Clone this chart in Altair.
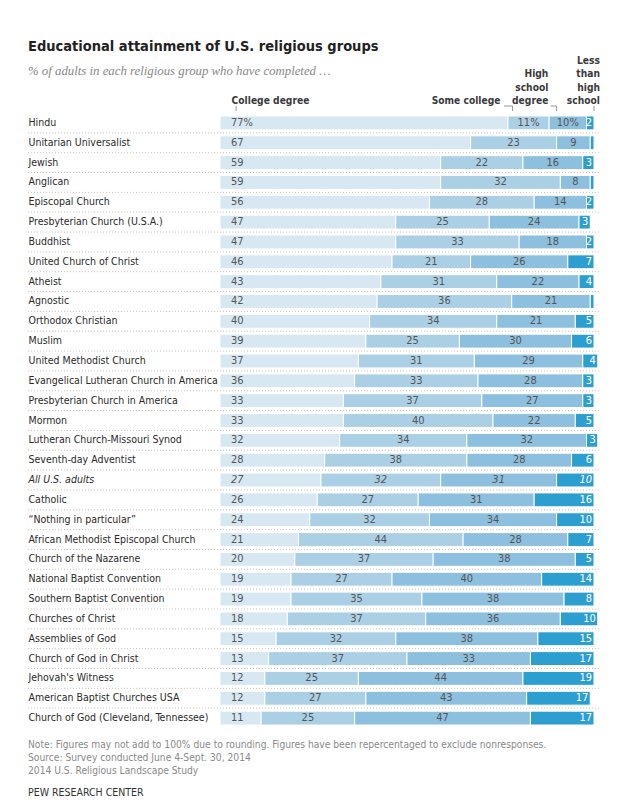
import altair as alt
import pandas as pd

groups = [
    "Hindu", "Unitarian Universalist", "Jewish", "Anglican", "Episcopal Church",
    "Presbyterian Church (U.S.A.)", "Buddhist", "United Church of Christ", "Atheist",
    "Agnostic", "Orthodox Christian", "Muslim", "United Methodist Church",
    "Evangelical Lutheran Church in America", "Presbyterian Church in America",
    "Mormon", "Lutheran Church-Missouri Synod", "Seventh-day Adventist",
    "All U.S. adults", "Catholic", "\u201cNothing in particular\u201d",
    "African Methodist Episcopal Church", "Church of the Nazarene",
    "National Baptist Convention", "Southern Baptist Convention",
    "Churches of Christ", "Assemblies of God", "Church of God in Christ",
    "Jehovah's Witness", "American Baptist Churches USA",
    "Church of God (Cleveland, Tennessee)",
]
college = [77, 67, 59, 59, 56, 47, 47, 46, 43, 42, 40, 39, 37, 36, 33, 33, 32, 28,
           27, 26, 24, 21, 20, 19, 19, 18, 15, 13, 12, 12, 11]
some_college = [11, 23, 22, 32, 28, 25, 33, 21, 31, 36, 34, 25, 31, 33, 37, 40, 34, 38,
                32, 27, 32, 44, 37, 27, 35, 37, 32, 37, 25, 27, 25]
high_school = [10, 9, 16, 8, 14, 24, 18, 26, 22, 21, 21, 30, 29, 28, 27, 22, 32, 28,
               31, 31, 34, 28, 38, 40, 38, 36, 38, 33, 44, 43, 47]
less_than_hs = [2, 1, 3, 1, 2, 3, 2, 7, 4, 1, 5, 6, 4, 3, 3, 5, 3, 6,
                10, 16, 10, 7, 5, 14, 8, 10, 15, 17, 19, 17, 17]

categories = ["College degree", "Some college", "High school degree", "Less than high school"]
colors = ["#d7e8f3", "#abd0e6", "#8dc0de", "#2c9fd0"]

rows = []
for i, g in enumerate(groups):
    vals = [college[i], some_college[i], high_school[i], less_than_hs[i]]
    for j, v in enumerate(vals):
        txt = f"{v}%" if (i == 0 and j < 3) else str(v)
        rows.append(dict(group=g, cat=categories[j], order=j, value=v, text=txt))
df = pd.DataFrame(rows)

FONT = "'DejaVu Sans Condensed', 'Liberation Sans', sans-serif"
ITALIC_EXPR = "datum.group == 'All U.S. adults' ? 'italic' : 'normal'"

xscale = alt.Scale(domain=[0, 100], nice=False, zero=True)
yaxis = alt.Axis(
    orient="left", ticks=False, domain=False, labelAlign="left",
    labelPadding=192, labelLimit=0, labelFont=FONT, labelFontSize=10.5,
    labelColor="#2a2a2a",
    labelFontStyle={"condition": {"test": "datum.value == 'All U.S. adults'",
                                  "value": "italic"}, "value": "normal"},
)
yscale = alt.Scale(paddingInner=0, paddingOuter=0)


def yenc(band_pos=None):
    kw = dict(sort=groups, title=None, scale=yscale, axis=yaxis)
    if band_pos is not None:
        kw["bandPosition"] = band_pos
    return alt.Y("group:N", **kw)


base = alt.Chart(df).transform_stack(
    stack="value", groupby=["group"], sort=[alt.SortField("order")], as_=["x0", "x1"]
).transform_calculate(mid="(datum.x0 + datum.x1) / 2")

bars = base.mark_bar(height={"band": 0.7}, stroke="white", strokeWidth=1).encode(
    x=alt.X("x0:Q", scale=xscale, axis=None),
    x2="x1:Q",
    y=yenc(),
    color=alt.Color("cat:N", scale=alt.Scale(domain=categories, range=colors), legend=None),
)

VAL_SIZE = 11
t_first = base.transform_filter("datum.order == 0").mark_text(
    align="left", dx=11, font=FONT, fontSize=VAL_SIZE, color="#555555",
    fontStyle=alt.ExprRef(ITALIC_EXPR),
).encode(x=alt.X("x0:Q", scale=xscale, axis=None), y=yenc(), text="text:N")

t_mid = base.transform_filter("(datum.order == 1 || datum.order == 2) && datum.value >= 2").mark_text(
    align="center", font=FONT, fontSize=VAL_SIZE, color="#555555",
    fontStyle=alt.ExprRef(ITALIC_EXPR),
).encode(x=alt.X("mid:Q", scale=xscale, axis=None), y=yenc(), text="text:N")

t_last = base.transform_filter("datum.order == 3 && datum.value >= 2").mark_text(
    align="right", dx=-2, font=FONT, fontSize=VAL_SIZE, color="white",
    fontStyle=alt.ExprRef(ITALIC_EXPR),
).encode(x=alt.X("x1:Q", scale=xscale, axis=None), y=yenc(), text="text:N")

sep_df = pd.DataFrame({"group": groups[:-1]})
separators = alt.Chart(sep_df).mark_rule(
    strokeDash=[1, 2], color="#c9c2bd", strokeWidth=1
).encode(
    y=yenc(1),
    x=alt.value(-192), x2=alt.value(380),
)

# column headers (alphabetic baseline of the first line)
hdr_style = dict(baseline="alphabetic", font=FONT, fontSize=10.2, fontWeight="bold",
                 color="#3a3a3a", lineBreak="\n", lineHeight=13.5)
h_college = alt.Chart(pd.DataFrame({"label": ["College degree"], "x": [3.1]})).mark_text(
    align="left", **hdr_style
).encode(x=alt.X("x:Q", scale=xscale, axis=None), y=alt.value(-9), text="label:N")
h_some = alt.Chart(pd.DataFrame({"label": ["Some college"], "x": [75.0]})).mark_text(
    align="right", **hdr_style
).encode(x=alt.X("x:Q", scale=xscale, axis=None), y=alt.value(-9), text="label:N")
h_hs = alt.Chart(pd.DataFrame({"label": ["High\nschool\ndegree"], "x": [87.8]})).mark_text(
    align="right", **hdr_style
).encode(x=alt.X("x:Q", scale=xscale, axis=None), y=alt.value(-36), text="label:N")
h_less = alt.Chart(pd.DataFrame({"label": ["Less\nthan\nhigh\nschool"], "x": [101.6]})).mark_text(
    align="right", **hdr_style
).encode(x=alt.X("x:Q", scale=xscale, axis=None), y=alt.value(-49.5), text="label:N")

br_h = pd.DataFrame({"x": [75.9, 88.4], "x2": [78.2, 90.0]})
br_v = pd.DataFrame({"x": [4.3, 78.2, 90.0, 100.0]})
bh = alt.Chart(br_h).mark_rule(color="#999999", strokeWidth=1).encode(
    x=alt.X("x:Q", scale=xscale, axis=None), x2="x2:Q", y=alt.value(-7))
bv = alt.Chart(br_v).mark_rule(color="#999999", strokeWidth=1).encode(
    x=alt.X("x:Q", scale=xscale, axis=None), y=alt.value(-7), y2=alt.value(-2))

title = alt.Chart(pd.DataFrame({"t": ["Educational attainment of U.S. religious groups"]})).mark_text(
    align="left", baseline="alphabetic", font=FONT, fontSize=14.5, fontWeight="bold", color="#222222",
).encode(x=alt.value(-192), y=alt.value(-62), text="t:N")

subtitle = alt.Chart(pd.DataFrame({"t": ["% of adults in each religious group who have completed \u2026"]})).mark_text(
    align="left", baseline="alphabetic", font="Liberation Serif", fontSize=12.8,
    fontStyle="italic", color="#888888",
).encode(x=alt.value(-192), y=alt.value(-38), text="t:N")

notes = alt.Chart(pd.DataFrame({"t": [
    "Note: Figures may not add to 100% due to rounding. Figures have been repercentaged to exclude nonresponses.\n"
    "Source: Survey conducted June 4-Sept. 30, 2014\n"
    "2014 U.S. Religious Landscape Study"
]})).mark_text(
    align="left", baseline="alphabetic", font=FONT, fontSize=10.2, color="#8a8a8a",
    lineBreak="\n", lineHeight=13,
).encode(x=alt.value(-192), y=alt.value(635), text="t:N")

source = alt.Chart(pd.DataFrame({"t": ["PEW RESEARCH CENTER"]})).mark_text(
    align="left", baseline="alphabetic", font=FONT, fontSize=10.5, color="#333333",
).encode(x=alt.value(-192), y=alt.value(683), text="t:N")

chart = alt.layer(
    separators, bars, t_first, t_mid, t_last,
    h_college, h_some, h_hs, h_less, bh, bv, title, subtitle, notes, source
).properties(
    width=374, height=615,
    autosize=alt.AutoSizeParams(type="none"),
    padding={"left": 212, "top": 105, "right": 30, "bottom": 70},
).configure_view(stroke=None)

chart.save("out.html", embed_options={"renderer": "svg", "actions": False})
